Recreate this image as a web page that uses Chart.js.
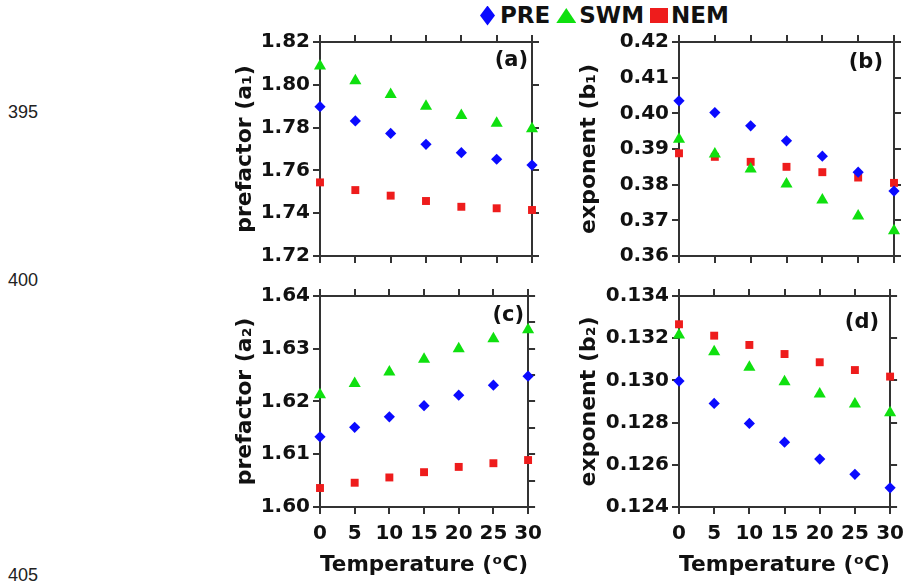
<!DOCTYPE html>
<html>
<head>
<meta charset="utf-8">
<script src="https://cdn.jsdelivr.net/npm/chart.js@4.4.1/dist/chart.umd.min.js"></script>
<style>
  body { margin: 0; width: 906px; height: 583px; overflow: hidden; background: #fff; position: relative; }
  canvas { position: absolute; }
  .lineno { position: absolute; left: 8px; font: 18px/18px "Liberation Sans", Arial, sans-serif; color: #222; }
  #legend { position: absolute; left: 480px; top: 4px; height: 23px; display: flex; align-items: center;
            font: bold 23px/23px "DejaVu Sans", sans-serif; color: #111; }
  #legend .mark { display: inline-block; }
</style>
</head>
<body>
<div class="lineno" style="top:103px">395</div>
<div class="lineno" style="top:271px">400</div>
<div class="lineno" style="top:566px">405</div>

<div id="legend"></div>

<canvas id="panelA" width="322" height="250" style="left:228px;top:24px"></canvas>
<canvas id="panelB" width="340" height="250" style="left:572px;top:24px"></canvas>
<canvas id="panelC" width="322" height="304" style="left:228px;top:278px"></canvas>
<canvas id="panelD" width="340" height="304" style="left:572px;top:278px"></canvas>

<script>
// temperature (°C) on every x axis
const temperature = [0, 5, 10, 15, 20, 25, 30];
const seriesNames = ['PRE', 'SWM', 'NEM'];

// (a) prefactor a1
const a1PRE = [1.7898, 1.7831, 1.7773, 1.7722, 1.7683, 1.7652, 1.7625];
const a1SWM = [1.8088, 1.8019, 1.7955, 1.7900, 1.7856, 1.7820, 1.7795];
const a1NEM = [1.7544, 1.7508, 1.7482, 1.7457, 1.7430, 1.7423, 1.7415];

// (b) exponent b1
const b1PRE = [0.4035, 0.4002, 0.3965, 0.3923, 0.3880, 0.3835, 0.3782];
const b1SWM = [0.3927, 0.3886, 0.3844, 0.3802, 0.3757, 0.3712, 0.3671];
const b1NEM = [0.3888, 0.3878, 0.3864, 0.3850, 0.3835, 0.3820, 0.3805];

// (c) prefactor a2
const a2PRE = [1.6133, 1.6151, 1.6171, 1.6192, 1.6212, 1.6231, 1.6248];
const a2SWM = [1.6213, 1.6234, 1.6256, 1.6280, 1.6300, 1.6319, 1.6336];
const a2NEM = [1.6036, 1.6046, 1.6056, 1.6066, 1.6076, 1.6083, 1.6089];

// (d) exponent b2
const b2PRE = [0.12997, 0.12891, 0.12796, 0.12707, 0.12627, 0.12555, 0.12491];
const b2SWM = [0.13215, 0.13136, 0.13062, 0.12994, 0.12936, 0.12888, 0.12847];
const b2NEM = [0.13266, 0.13212, 0.13168, 0.13125, 0.13086, 0.13049, 0.13018];

// y ranges: [min, max, label step, tick step]
const a1Range = [1.72, 1.82, 0.02, 0.02];
const b1Range = [0.36, 0.42, 0.01, 0.01];
const a2Range = [1.60, 1.64, 0.01, 0.005];
const b2Range = [0.124, 0.134, 0.002, 0.002];
const xRange = [0, 30, 5];

const colors = ['#0a0aff', '#0fe00f', '#ee1c1c'];
const shapes = ['rectRot', 'triangle', 'rect'];
const sizes = [5.6, 7, 5.6];

const axisColor = '#333';
const textColor = '#111';
Chart.defaults.font.family = '"DejaVu Sans", sans-serif';

const panelLabel = {
    id: 'panelLabel',
    afterDraw(chart, args, opts) {
        const { ctx, chartArea } = chart;
        ctx.save();
        ctx.font = 'bold 21px "DejaVu Sans"';
        ctx.fillStyle = textColor;
        ctx.textAlign = 'right';
        ctx.textBaseline = 'top';
        ctx.fillText(opts.text, chartArea.right - opts.dx, chartArea.top + opts.dy);
        ctx.restore();
    }
};

function series(i, values) {
    return {
        label: seriesNames[i],
        data: temperature.map((t, k) => ({ x: t, y: values[k] })),
        pointStyle: shapes[i],
        pointRadius: sizes[i],
        pointHoverRadius: sizes[i],
        backgroundColor: colors[i],
        borderWidth: 0,
        showLine: false,
        clip: false
    };
}

function frameAxis(extra) {
    return Object.assign({
        grid: { drawOnChartArea: false, tickLength: 7, color: axisColor, lineWidth: 2 },
        border: { color: axisColor, width: 2 }
    }, extra);
}

function panel(id, p) {
    const [ymin, ymax, labelStep, tickStep] = p.range;
    const dec = p.decimals;
    new Chart(document.getElementById(id), {
        type: 'scatter',
        data: { datasets: [series(0, p.values[0]), series(1, p.values[1]), series(2, p.values[2])] },
        options: {
            responsive: false,
            animation: false,
            events: [],
            layout: { padding: 0 },
            plugins: {
                legend: { display: false },
                tooltip: { enabled: false },
                panelLabel: { text: p.label, dx: p.labelPos[0], dy: p.labelPos[1] }
            },
            scales: {
                x: frameAxis({
                    type: 'linear', position: 'bottom', min: xRange[0], max: xRange[1],
                    ticks: { stepSize: xRange[2], display: p.showX, color: textColor, padding: 8,
                             font: { size: 20, weight: 'bold' } },
                    title: { display: p.showX, text: 'Temperature (ᵒC)', color: textColor,
                             font: { size: 22, weight: 'bold' }, padding: { top: 4, bottom: 4 } },
                    afterFit: s => { s.height = p.showX ? 75 : 18; }
                }),
                x2: frameAxis({
                    type: 'linear', position: 'top', min: xRange[0], max: xRange[1],
                    ticks: { stepSize: xRange[2], display: false },
                    afterFit: s => { s.height = 18; }
                }),
                y: frameAxis({
                    type: 'linear', position: 'left', min: ymin, max: ymax,
                    ticks: {
                        stepSize: tickStep, color: textColor, padding: 3,
                        font: { size: 20, weight: 'bold' },
                        callback: v => {
                            const k = v / labelStep;
                            return Math.abs(k - Math.round(k)) < 1e-6 ? v.toFixed(dec) : '';
                        }
                    },
                    title: { display: true, text: p.yTitle, color: textColor,
                             font: { size: 22, weight: 'bold' }, padding: { top: 4, bottom: 4 } },
                    afterFit: s => { s.width = p.leftWidth; }
                }),
                y2: frameAxis({
                    type: 'linear', position: 'right', min: ymin, max: ymax,
                    ticks: { stepSize: tickStep, display: false },
                    afterFit: s => { s.width = 18; }
                })
            }
        },
        plugins: [panelLabel]
    });
}

panel('panelA', { values: [a1PRE, a1SWM, a1NEM], range: a1Range, decimals: 2, yTitle: 'prefactor (a₁)',
                  label: '(a)', labelPos: [4, 8], showX: false, leftWidth: 92 });
panel('panelB', { values: [b1PRE, b1SWM, b1NEM], range: b1Range, decimals: 2, yTitle: 'exponent (b₁)',
                  label: '(b)', labelPos: [11, 10], showX: false, leftWidth: 107 });
panel('panelC', { values: [a2PRE, a2SWM, a2NEM], range: a2Range, decimals: 2, yTitle: 'prefactor (a₂)',
                  label: '(c)', labelPos: [4, 9], showX: true, leftWidth: 92 });
panel('panelD', { values: [b2PRE, b2SWM, b2NEM], range: b2Range, decimals: 3, yTitle: 'exponent (b₂)',
                  label: '(d)', labelPos: [11, 16], showX: true, leftWidth: 107 });

// legend row above the panels
const legendShapes = [
    { w: 15, h: 20, clip: 'polygon(50% 0, 100% 50%, 50% 100%, 0 50%)', gap: 5 },
    { w: 20, h: 15, clip: 'polygon(50% 0, 100% 100%, 0 100%)', gap: 3 },
    { w: 18, h: 15, clip: 'none', gap: 3 }
];
const legend = document.getElementById('legend');
seriesNames.forEach((name, i) => {
    const s = legendShapes[i];
    const mark = document.createElement('span');
    mark.className = 'mark';
    mark.style.cssText = `width:${s.w}px;height:${s.h}px;background:${colors[i]};clip-path:${s.clip};` +
        `margin-left:${i ? 6 : 0}px;margin-right:${s.gap}px`;
    const text = document.createElement('span');
    text.textContent = name;
    legend.appendChild(mark);
    legend.appendChild(text);
});
</script>
</body>
</html>
